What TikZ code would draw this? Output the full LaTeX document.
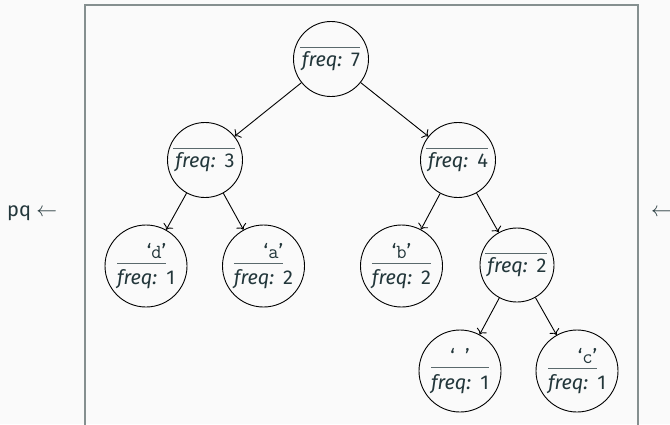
\documentclass[tikz,border=0pt]{standalone}
\usepackage{fontspec}
\setmainfont{Fira Sans}
\usetikzlibrary{arrows.meta}

\definecolor{fg}{HTML}{23373B}
\definecolor{bg}{HTML}{FAFAFA}
\definecolor{framecol}{HTML}{858F8F}
\colorlet{rulecol}{fg!75}

\newlength\rw
% count line and quoted character
\newcommand\fqhead{\textit{freq:}\hspace{0.45em}}
\newcommand\fqtext[1]{\fqhead#1}
\newcommand\charq[1]{\textquoteleft\texttt{#1}\textquoteright}
% inner node: rule over the count line
\newcommand\innerlbl[1]{%
  \settowidth{\rw}{\fqtext{#1}}%
  \vbox{\offinterlineskip
    \hbox{\kern-2pt\textcolor{rulecol}{\rule{\dimexpr\rw+2pt}{0.8pt}}}%
    \kern3pt
    \hbox{\fqtext{#1}}}}
% leaf with a short rule, character set flush right
\newcommand\leafshort[2]{%
  \settowidth{\rw}{\fqhead}%
  \vbox{\offinterlineskip
    \hbox to \rw{\hfil\charq{#1}}%
    \kern4pt
    \hbox{\textcolor{rulecol}{\rule{\rw}{0.8pt}}}%
    \kern6pt
    \hbox{\fqtext{#2}}}}
% leaf with a full rule, character centred
\newcommand\leaffull[2]{%
  \settowidth{\rw}{\fqtext{#2}}%
  \vbox{\offinterlineskip
    \hbox to \rw{\hfil\charq{#1}\hfil}%
    \kern4pt
    \hbox{\textcolor{rulecol}{\rule{\rw}{0.8pt}}}%
    \kern6pt
    \hbox{\fqtext{#2}}}}

\begin{document}
\begin{tikzpicture}[x=1pt,y=-1pt,
  font=\fontsize{20}{23}\selectfont, text=fg,
  tnode/.style={draw=black, circle, line width=0.9pt, inner sep=0pt},
  innode/.style={tnode, minimum size=75pt},
  leafnode/.style={tnode, minimum size=82pt},
  link/.style={draw=black, line width=0.9pt, -{To[length=5pt,width=11pt]}},
  side/.style={inner sep=0pt, anchor=west}]
  \fill[bg] (0,0) rectangle (670,424);
  \useasboundingbox (0,0) rectangle (670,424);
  \draw[framecol, line width=1.6pt] (85,5) rectangle (638,440);

  \node[side] (pq) at (7,213) {pq $\leftarrow$};
  \node[side] (rt) at (651,213) {$\leftarrow$};

  \node[innode] (root) at (331,59) {\innerlbl{7}};
  \node[innode] (n3) at (205,160) {\innerlbl{3}};
  \node[innode] (n4) at (458,160) {\innerlbl{4}};
  \node[leafnode] (d) at (146,266) {\leafshort{d}{1}};
  \node[leafnode] (a) at (263.5,266) {\leafshort{a}{2}};
  \node[leafnode] (b) at (401.5,266) {\leaffull{b}{2}};
  \node[tnode, minimum size=74pt] (n2) at (517,265) {\innerlbl{2}};
  \node[leafnode] (sp) at (460,371) {\leaffull{\ }{1}};
  \node[leafnode] (c) at (577,371) {\leafshort{c}{1}};

  \draw[link] (root) -- (n3);
  \draw[link] (root) -- (n4);
  \draw[link] (n3) -- (d);
  \draw[link] (n3) -- (a);
  \draw[link] (n4) -- (b);
  \draw[link] (n4) -- (n2);
  \draw[link] (n2) -- (sp);
  \draw[link] (n2) -- (c);
\end{tikzpicture}
\end{document}
